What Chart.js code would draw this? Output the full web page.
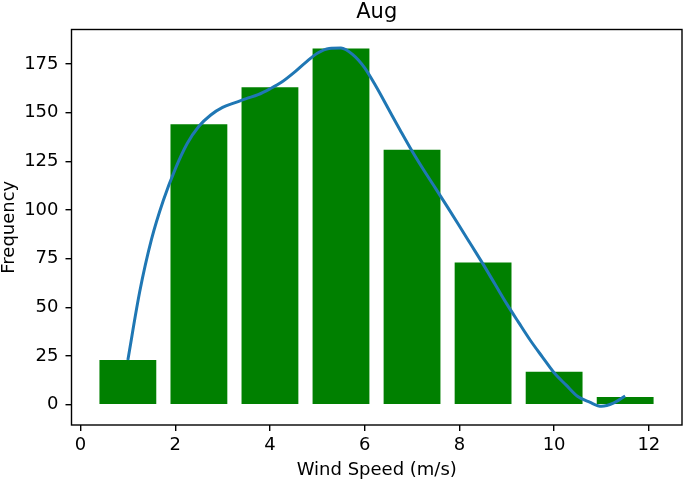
<!DOCTYPE html>
<html>
<head>
<meta charset="utf-8">
<title>Aug</title>
<script src="https://cdn.jsdelivr.net/npm/chart.js@4"></script>
<style>
  body { margin: 0; background: #fff; }
  #wrap { width: 685px; height: 482px; }
</style>
</head>
<body>
<div id="wrap"><canvas id="myChart" width="685" height="482"></canvas></div>
<script>
// histogram bars (bin centres and counts)
var binCenters = [1, 2.5, 4, 5.5, 7, 8.5, 10, 11.5];
var binCounts = [23, 144, 163, 183, 131, 73, 17, 4];

// smooth fitted curve
var curveX = [1, 1.25, 1.5, 1.75, 2, 2.25, 2.5, 2.75, 3, 3.25, 3.5, 3.75, 4, 4.25, 4.5, 4.75,
  5, 5.25, 5.5, 5.75, 6, 6.25, 6.5, 6.75, 7, 7.25, 7.5, 7.75, 8, 8.25, 8.5, 8.75,
  9, 9.25, 9.5, 9.75, 10, 10.25, 10.5, 10.75, 11, 11.25, 11.5];
var curveY = [23, 58, 85, 105, 121, 134, 143, 148.8, 152.7, 155, 157.2, 159.2, 162.2, 165.7, 170.4, 175.7,
  180.5, 183, 183.2, 179.8, 173, 163, 152, 141, 130.3, 120.4, 111, 101.5, 91.8, 82, 72.2, 62,
  51.8, 42.3, 33, 24.6, 16.4, 10.2, 4.2, 1.3, -0.8, 0.8, 4.5];

var xTicks = { min: -0.19, max: 12.7, step: 2 };
var yTicks = { min: -10.4, max: 192.7, step: 25 };

var barPoints = binCenters.map(function (x, i) { return { x: x, y: binCounts[i] }; });
var curvePoints = curveX.map(function (x, i) { return { x: x, y: curveY[i] }; });

// box round the plot like matplotlib spines
var frame = {
  id: 'frame',
  afterDatasetsDraw: function (chart) {
    var ctx = chart.ctx, a = chart.chartArea;
    ctx.save();
    ctx.strokeStyle = '#000';
    ctx.lineWidth = 1.4;
    ctx.strokeRect(a.left, a.top, a.right - a.left, a.bottom - a.top);
    ctx.restore();
  }
};

var font = 'DejaVu Sans';
var tickGrid = { display: true, drawOnChartArea: false, drawTicks: true, tickLength: 6, color: '#000', lineWidth: 1.4 };

const ctx = document.getElementById('myChart');

new Chart(ctx, {
  type: 'bar',
  data: {
    datasets: [{
      type: 'line',
      data: curvePoints,
      borderColor: '#1f77b4',
      borderWidth: 3,
      pointRadius: 0,
      cubicInterpolationMode: 'monotone',
      fill: false,
      order: 1
    }, {
      type: 'bar',
      data: barPoints,
      backgroundColor: '#008000',
      borderWidth: 0,
      barPercentage: 0.8,
      categoryPercentage: 1.0,
      order: 2
    }]
  },
  plugins: [frame],
  options: {
    responsive: false,
    devicePixelRatio: 1,
    animation: false,
    layout: { padding: { top: 0, right: 3, bottom: 0, left: 0 } },
    plugins: {
      legend: { display: false },
      tooltip: { enabled: false },
      title: {
        display: true,
        text: 'Aug',
        fullSize: false,
        color: '#000',
        font: { family: font, size: 21, weight: 'normal', lineHeight: 1.2 },
        padding: { top: 0, bottom: 4.3 }
      }
    },
    scales: {
      x: {
        type: 'linear',
        min: xTicks.min,
        max: xTicks.max,
        offset: false,
        grid: Object.assign({ offset: false }, tickGrid),
        border: { display: false },
        ticks: { stepSize: xTicks.step, includeBounds: false, color: '#000', padding: 4, font: { family: font, size: 18 } },
        title: { display: true, text: 'Wind Speed (m/s)', color: '#000', font: { family: font, size: 18, lineHeight: 1 }, padding: { top: 0, bottom: 3 } },
        afterFit: function (scale) { scale.height = 57; }
      },
      y: {
        min: yTicks.min,
        max: yTicks.max,
        grid: tickGrid,
        border: { display: false },
        ticks: { stepSize: yTicks.step, includeBounds: false, color: '#000', padding: 7, font: { family: font, size: 18 } },
        title: { display: true, text: 'Frequency', color: '#000', font: { family: font, size: 18, lineHeight: 1 }, padding: { top: 0, bottom: 0 } },
        afterFit: function (scale) { scale.width = 71.5; }
      }
    }
  }
});
</script>
</body>
</html>
